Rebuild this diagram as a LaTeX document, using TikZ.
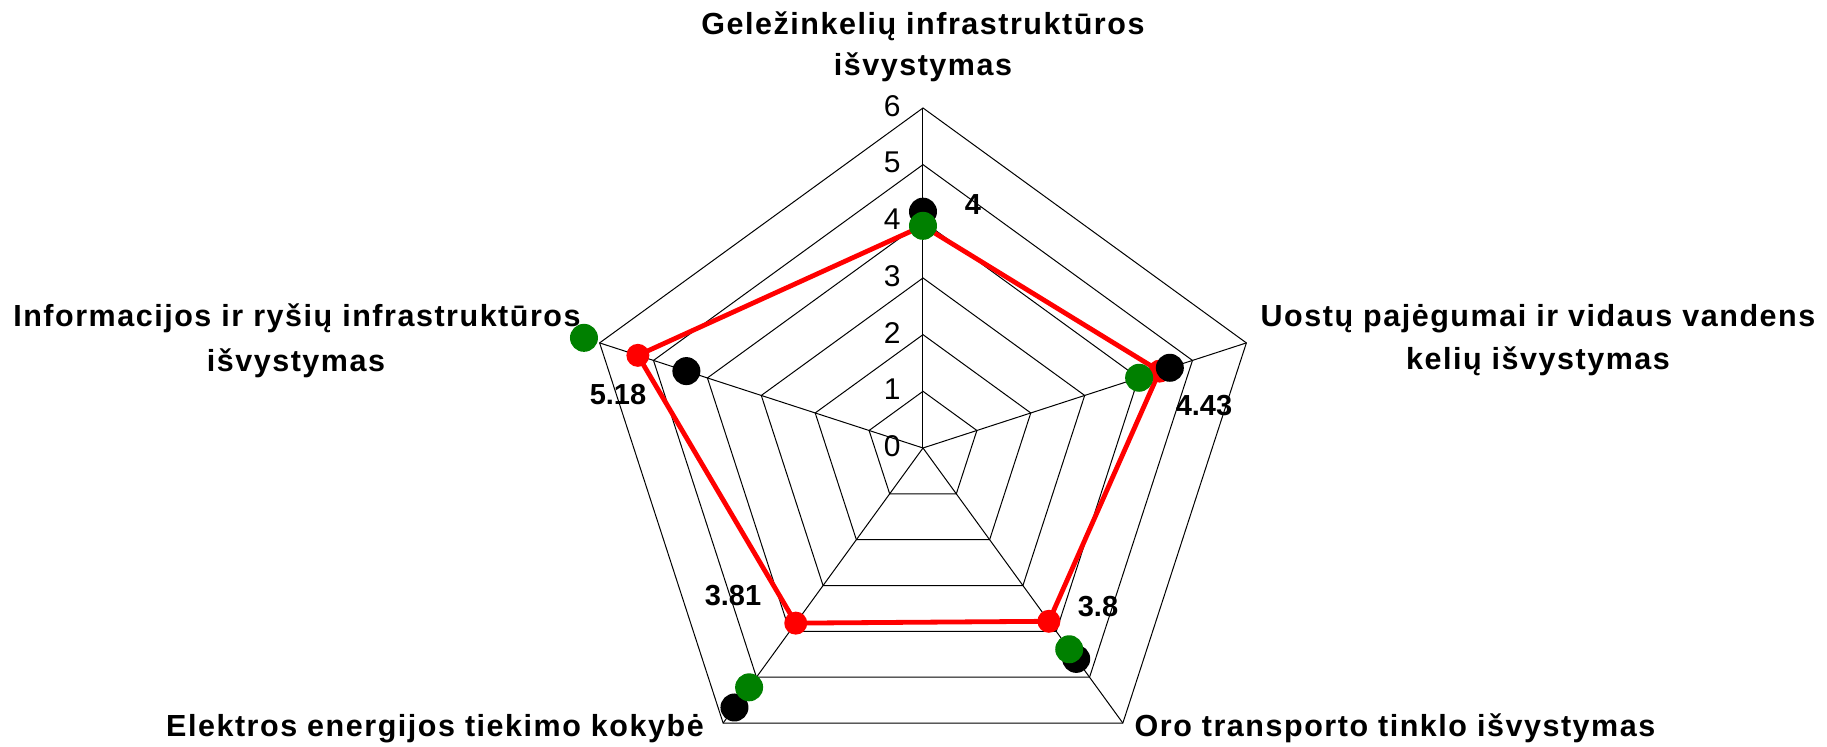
\documentclass[tikz,border=0pt]{standalone}
\usepackage{fontspec}
\setmainfont{Liberation Sans}
\newfontfamily\lblfont{Liberation Sans}[LetterSpace=5.0]
\definecolor{mkgreen}{RGB}{0,128,0}
\tikzset{
  gridline/.style={black, line width=0.5pt},
  ticklbl/.style={font=\fontsize{15}{17}\selectfont, inner sep=0pt, anchor=east},
  vallbl/.style={font=\fontsize{14.5}{16}\selectfont\bfseries, inner sep=0pt},
  axislbl/.style={font=\lblfont\fontsize{15.25}{18}\selectfont\bfseries, inner sep=0pt, anchor=base},
  redline/.style={red, line width=2.4pt, line join=round},
}
\begin{document}
\begin{tikzpicture}[x=0.5pt, y=0.5pt]
  \def\u{56.67}
  \useasboundingbox (-923,-299) rectangle (904,448);
  % web
  \foreach \k in {1,...,6}
    \draw[gridline] (90:{\k*\u}) -- (18:{\k*\u}) -- (-54:{\k*\u}) -- (-126:{\k*\u}) -- (162:{\k*\u}) -- cycle;
  \foreach \a in {90,18,-54,-126,162}
    \draw[gridline] (0,0) -- (\a:{6*\u});
  \foreach \k in {0,...,6}
    \node[ticklbl] (tick\k) at (-22,{\k*\u+2}) {\k};
  % red series
  \coordinate (rTop) at (90:{3.92*\u});
  \coordinate (rRight) at (18:{4.39*\u});
  \coordinate (rLowR) at (-54:{3.78*\u});
  \coordinate (rLowL) at (-126:{3.82*\u});
  \coordinate (rLeft) at (162:{5.29*\u});
  \draw[redline] (rTop) -- (rRight) -- (rLowR) -- (rLowL) -- (rLeft) -- cycle;
  \foreach \p in {rTop,rRight,rLowR,rLowL,rLeft}
    \fill[red] (\p) circle (5.75pt);
  % black and green markers
  \foreach \a/\v in {90/4.17, 18/4.58, -54/4.60, -126/5.66, 162/4.39}
    \fill[black] (\a:{\v*\u}) circle (7pt);
  \foreach \a/\v in {90/3.92, 18/4.01, -54/4.39, -126/5.22, 162/6.29}
    \fill[mkgreen] (\a:{\v*\u}) circle (7pt);
  % values
  \node[vallbl] (vTop) at (50,243) {4};
  \node[vallbl] (vRight) at (281,42) {4.43};
  \node[vallbl] (vLowR) at (175,-159) {3.8};
  \node[vallbl] (vLowL) at (-190,-148) {3.81};
  \node[vallbl] (vLeft) at (-305,53) {5.18};
  % axis names
  \node[axislbl] (topA) at (0,413) {Geležinkelių infrastruktūros};
  \node[axislbl] (topB) at (0,372) {išvystymas};
  \node[axislbl] (rightA) at (615,121.3) {Uostų pajėgumai ir vidaus vandens};
  \node[axislbl] (rightB) at (615,78) {kelių išvystymas};
  \node[axislbl] (leftA) at (-626,121.3) {Informacijos ir ryšių infrastruktūros};
  \node[axislbl] (leftB) at (-627,76.3) {išvystymas};
  \node[axislbl] (lowL) at (-488,-288.7) {Elektros energijos tiekimo kokybė};
  \node[axislbl] (lowR) at (472,-289) {Oro transporto tinklo išvystymas};
\end{tikzpicture}
\end{document}
